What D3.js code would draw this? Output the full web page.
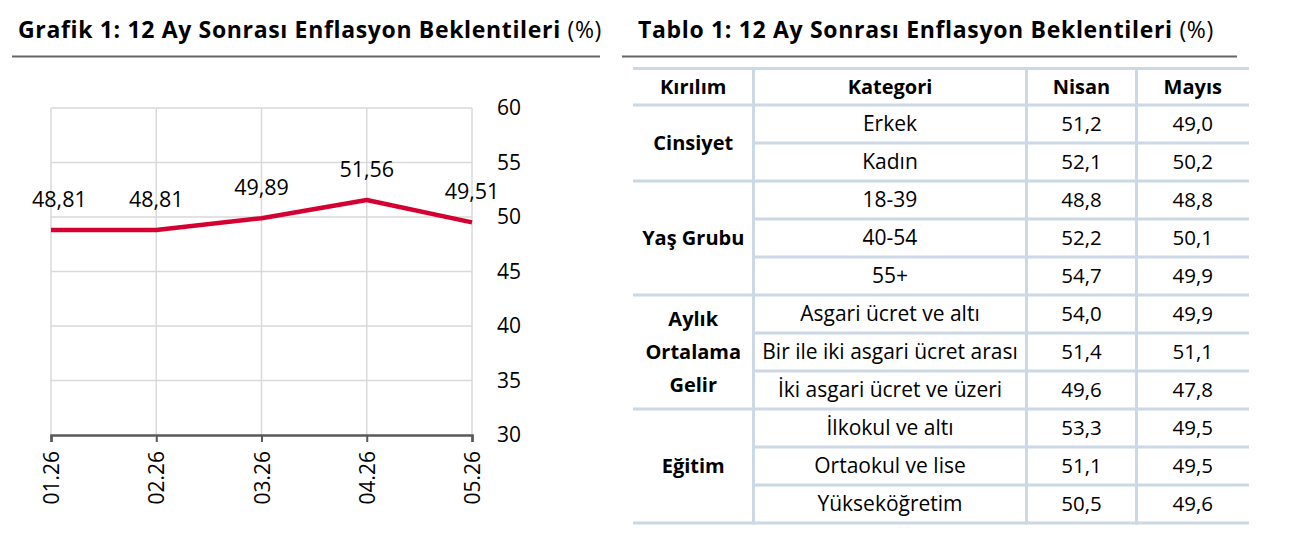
<!DOCTYPE html>
<html><head><meta charset="utf-8">
<script src="https://cdn.jsdelivr.net/npm/d3@7"></script>
<style>
body{margin:0;background:#fff;}
svg{display:block;font-family:"Open Sans",sans-serif;}
</style></head>
<body><svg id="c" width="1290" height="550"></svg>
<script>
// ---- Chart data ----
const months = ["01.26","02.26","03.26","04.26","05.26"];
const values = [48.81, 48.81, 49.89, 51.56, 49.51];
const valueLabels = ["48,81","48,81","49,89","51,56","49,51"];
const yTicks = [30,35,40,45,50,55,60];

// ---- Table data ----
const headers = ["Kırılım","Kategori","Nisan","Mayıs"];
const groups = [["Cinsiyet"],["Yaş Grubu"],["Aylık","Ortalama","Gelir"],["Eğitim"]];
const groupSizes = [2,3,3,3];
const categories = ["Erkek","Kadın","18-39","40-54","55+","Asgari ücret ve altı","Bir ile iki asgari ücret arası","İki asgari ücret ve üzeri","İlkokul ve altı","Ortaokul ve lise","Yükseköğretim"];
const nisan = ["51,2","52,1","48,8","52,2","54,7","54,0","51,4","49,6","53,3","51,1","50,5"];
const mayis = ["49,0","50,2","48,8","50,1","49,9","49,9","51,1","47,8","49,5","49,5","49,6"];

const svg = d3.select("#c");

// ---- Titles ----
function title(x, y, bold, normal, targetRight){
  const t = svg.append("text").attr("x",x).attr("y",y).attr("font-size",23).attr("fill","#000");
  t.append("tspan").attr("font-weight",700).text(bold);
  t.append("tspan").attr("font-weight",400).text(normal);
  const w = t.node().getComputedTextLength();
  const n = (bold+normal).length;
  t.attr("letter-spacing", ((targetRight-x)-w)/n);
}
title(18, 38, "Grafik 1: 12 Ay Sonrası Enflasyon Beklentileri ", "(%)", 602);
title(638, 38, "Tablo 1: 12 Ay Sonrası Enflasyon Beklentileri ", "(%)", 1214);
svg.append("line").attr("x1",12).attr("x2",600).attr("y1",56.5).attr("y2",56.5).attr("stroke","#666").attr("stroke-width",2);
svg.append("line").attr("x1",622).attr("x2",1237).attr("y1",56.5).attr("y2",56.5).attr("stroke","#666").attr("stroke-width",2);

// ---- Line chart ----
const x = d3.scalePoint().domain(months).range([51, 472]);
const y = d3.scaleLinear().domain([30,60]).range([435,108]);

const g = svg.append("g");
g.selectAll("line.h").data(yTicks.filter(d=>d>30)).join("line")
  .attr("x1",x.range()[0]).attr("x2",x.range()[1])
  .attr("y1",d=>y(d)).attr("y2",d=>y(d))
  .attr("stroke","#d9d9d9").attr("stroke-width",1.5);
g.selectAll("line.v").data(months).join("line")
  .attr("x1",d=>x(d)).attr("x2",d=>x(d))
  .attr("y1",y(60)).attr("y2",y(30))
  .attr("stroke","#d9d9d9").attr("stroke-width",1.5);

const yAxis = d3.axisRight(y).tickValues(yTicks).tickSize(0).tickPadding(0).tickFormat(d3.format("d"));
const ya = svg.append("g").attr("transform","translate(497,0)").call(yAxis);
ya.select(".domain").remove();
ya.selectAll("text").attr("font-size",21).attr("font-family","Open Sans").attr("fill","#000").attr("x",0);

const xAxis = d3.axisBottom(x).tickSize(7).tickPadding(9);
const xa = svg.append("g").attr("transform",`translate(0,${y(30)})`).call(xAxis);
xa.select(".domain").attr("stroke","#595959").attr("stroke-width",2.5);
xa.selectAll(".tick line").attr("stroke","#595959").attr("stroke-width",2);
xa.selectAll("text").attr("font-size",21).attr("font-family","Open Sans").attr("fill","#000")
  .attr("transform","rotate(-90)").attr("text-anchor","end").attr("dy","0.36em").attr("x",-16).attr("y",0);

svg.append("path").datum(values)
  .attr("d", d3.line().x((d,i)=>x(months[i])).y(d=>y(d)))
  .attr("fill","none").attr("stroke","#d50032").attr("stroke-width",4.5).attr("stroke-linejoin","round");

svg.selectAll("text.vl").data(values).join("text").attr("class","vl")
  .attr("font-size",21.5).attr("fill","#000").attr("text-anchor","middle")
  .attr("y",d=>y(d)-23).text((d,i)=>valueLabels[i])
  .attr("x",function(d,i){const w=this.getComputedTextLength(); return Math.max(x(months[i]), 32+w/2);});

// ---- Table ----
const colEdges = [633, 753.5, 1026.5, 1136.5, 1249];
const rowY = d3.scaleBand().domain(d3.range(categories.length)).range([105,523]);
const headTop = 68.5, headBot = 105;
const lineCol = "#cdd8e6";
const tb = svg.append("g");
const colCenter = i => (colEdges[i]+colEdges[i+1])/2;

tb.selectAll("text.hd").data(headers).join("text")
  .attr("x",(d,i)=>colCenter(i)).attr("y",(headTop+headBot)/2).attr("dy","0.35em")
  .attr("text-anchor","middle").attr("font-size",20).attr("font-weight",700).attr("fill","#000").text(d=>d);

tb.selectAll("line.vc").data(colEdges.slice(1,4)).join("line")
  .attr("x1",d=>d).attr("x2",d=>d).attr("y1",headTop-1.5).attr("y2",rowY.range()[1]+1.5)
  .attr("stroke",lineCol).attr("stroke-width",3);

tb.append("line").attr("x1",colEdges[0]).attr("x2",colEdges[4]).attr("y1",headTop).attr("y2",headTop).attr("stroke",lineCol).attr("stroke-width",3);
tb.selectAll("line.rw").data(d3.range(categories.length+1)).join("line")
  .attr("x1",colEdges[1]).attr("x2",colEdges[4])
  .attr("y1",i=>i<categories.length?rowY(i):rowY.range()[1]).attr("y2",i=>i<categories.length?rowY(i):rowY.range()[1])
  .attr("stroke",lineCol).attr("stroke-width",3);
const starts = groupSizes.reduce((a,s)=>{a.push(a[a.length-1]+s);return a;},[0]);
tb.selectAll("line.gp").data(starts).join("line")
  .attr("x1",colEdges[0]).attr("x2",colEdges[1])
  .attr("y1",i=>i<categories.length?rowY(i):rowY.range()[1]).attr("y2",i=>i<categories.length?rowY(i):rowY.range()[1])
  .attr("stroke",lineCol).attr("stroke-width",3);

groups.forEach((lines,gi)=>{
  const yTop = rowY(starts[gi]);
  const yBot = starts[gi+1]<categories.length?rowY(starts[gi+1]):rowY.range()[1];
  const mid = (yTop+yBot)/2;
  const lh = 33;
  lines.forEach((ln,li)=>{
    tb.append("text").attr("x",colCenter(0)).attr("y",mid+(li-(lines.length-1)/2)*lh).attr("dy","0.35em")
      .attr("text-anchor","middle").attr("font-size",20).attr("font-weight",700).attr("fill","#000").text(ln);
  });
});

const cols = [categories, nisan, mayis];
const colSize = [21, 20.5, 20.5];
cols.forEach((arr,ci)=>{
  tb.selectAll(null).data(arr).join("text")
    .attr("x",colCenter(ci+1)).attr("y",(d,i)=>rowY(i)+rowY.bandwidth()/2).attr("dy","0.35em")
    .attr("text-anchor","middle").attr("font-size",colSize[ci]).attr("fill","#000").text(d=>d);
});
</script></body></html>
